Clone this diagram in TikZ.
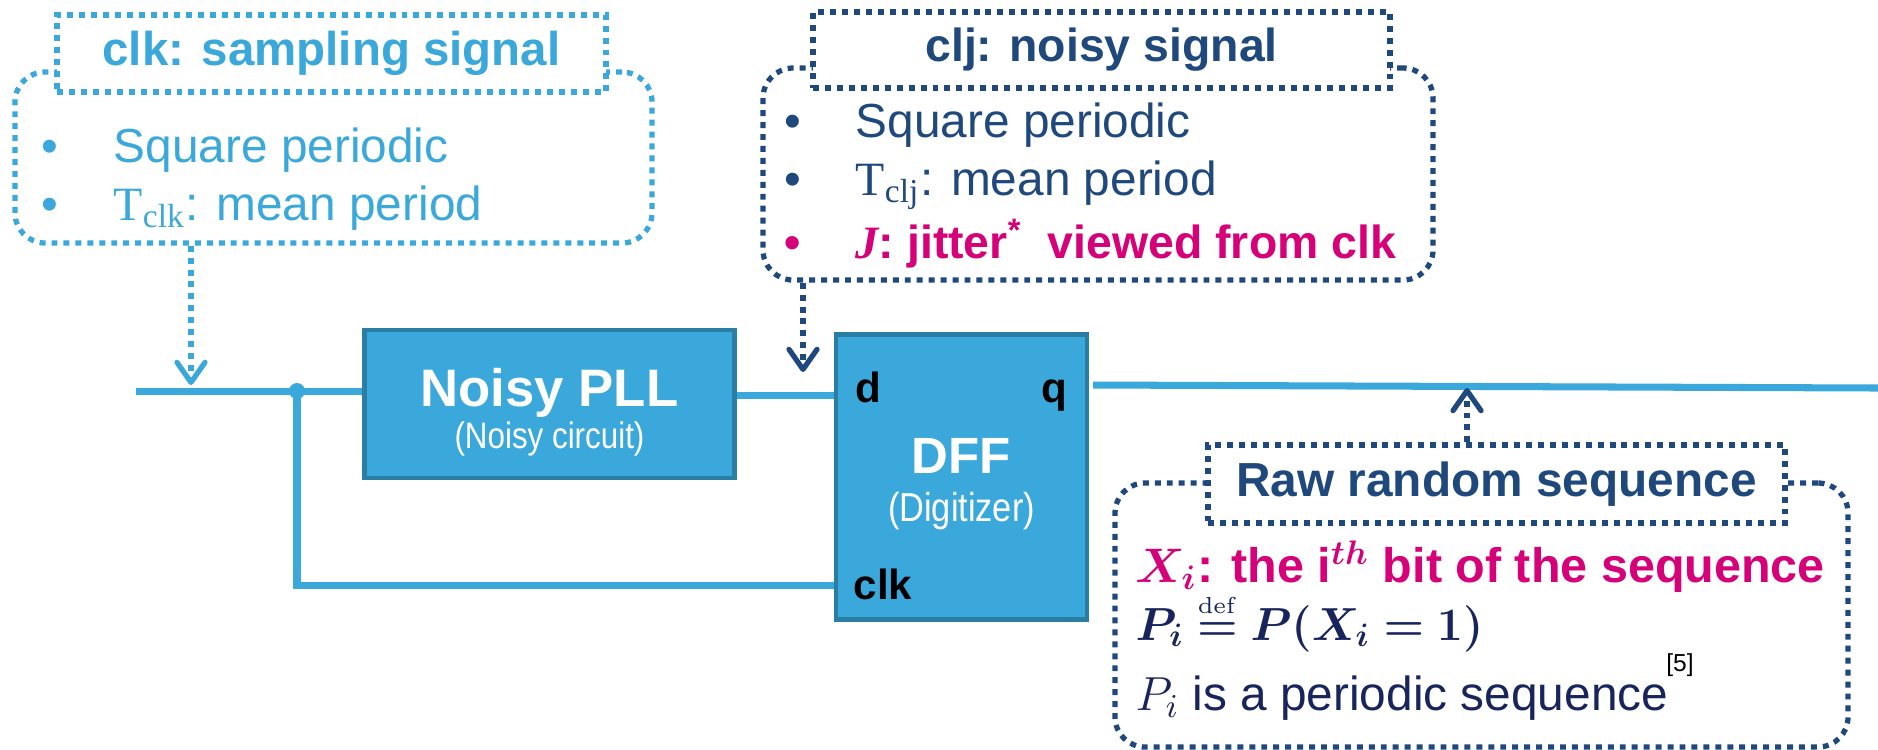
\RequirePackage{fix-cm}
\documentclass[tikz,border=0pt]{standalone}
\usepackage{amsmath}
\usepackage{bm}
\usepackage[no-math]{fontspec}
\setmainfont{Liberation Sans}
\newfontfamily\timesfont{Liberation Serif}
\newfontfamily\narrowfont[FakeStretch=0.85]{Liberation Sans}
\usetikzlibrary{arrows.meta}

\definecolor{wireblue}{RGB}{59,168,219}
\definecolor{blockedge}{RGB}{42,125,163}
\definecolor{navy}{RGB}{31,73,125}
\definecolor{inkblue}{RGB}{24,36,92}
\definecolor{jitpink}{RGB}{214,0,120}

\newcommand{\fsize}[1]{\fontsize{#1pt}{#1pt}\selectfont}
\newcommand{\bulletitem}[2]{\makebox[#1][l]{\textbullet}#2}
\newcommand{\defeq}{\mathrel{\overset{\scriptscriptstyle\mathrm{def}}{\bm{=}}}}

\begin{document}
\begin{tikzpicture}[x=0.1mm, y=-0.1mm,
    wire/.style={draw=wireblue, line width=2pt},
    block/.style={fill=wireblue, draw=blockedge, line width=1.3pt, inner sep=0pt},
    dots/.style={line width=1.5pt, dash pattern=on 1.7pt off 1.7pt},
    noteframe/.style={dots, rounded corners=3mm, inner sep=0pt},
    notehead/.style={dots, fill=white, inner sep=0pt, font=\fsize{13.5}\bfseries},
    port/.style={anchor=base west, inner sep=0pt, font=\fsize{12}\bfseries},
    txt/.style={anchor=base west, inner sep=0pt, font=\fsize{13.6}},
    pointer/.style={dots, -{Straight Barb[length=2mm, width=2.8mm, round]}}]
  \useasboundingbox (0,0) rectangle (1878,749);

  % blocks
  \node[block, minimum width=37mm, minimum height=14.8mm] (pll) at (549.5,404) {};
  \node[anchor=base, text=white, font=\fsize{15}\bfseries] (plltitle) at (549.5,406) {Noisy PLL};
  \node[anchor=base, text=white, font=\narrowfont\fsize{10.5}] (pllsub) at (549.5,448) {(Noisy circuit)};

  \node[block, minimum width=25.1mm, minimum height=28.5mm] (dff) at (961.5,477) {};
  \node[anchor=base, text=white, font=\fsize{14.5}\bfseries] (dfftitle) at (961.5,473) {DFF};
  \node[anchor=base, text=white, font=\narrowfont\fsize{11.5}] (dffsub) at (961.5,521) {(Digitizer)};
  \node[port] (pind) at (855,402) {d};
  \node[port, anchor=base east] (pinq) at (1068,402) {q};
  \node[port] (pinclk) at (853,599) {clk};

  % wires
  \coordinate (vin) at (136,391);
  \coordinate (fork) at (297,391);
  \coordinate (din) at (834,395);
  \coordinate (clkin) at (834,585);
  \coordinate (qout) at (1093,385);
  \coordinate (qend) at (1878,388);
  \draw[wire] (vin) -- (fork -| pll.west);
  \draw[wire] (din -| pll.east) -- (din);
  \draw[wire] (fork) |- (clkin);
  \draw[wire] (qout) -- (qend);
  \fill[wireblue] (fork) circle (0.8mm);

  % clk note
  \node[noteframe, draw=wireblue, minimum width=63.7mm, minimum height=17.1mm] (clknote) at (333.5,157.5) {};
  \node[notehead, draw=wireblue, text=wireblue, minimum width=54.9mm, minimum height=7.7mm] (clkhead) at (331.5,53.5) {clk: sampling signal};
  \node[txt, text=wireblue] (clkitem1) at (41,162) {\bulletitem{7.2mm}{Square periodic}};
  \node[txt, text=wireblue] (clkitem2) at (41,220) {\bulletitem{7.2mm}{{\timesfont T}$_{\text{\timesfont clk}}$: mean period}};
  \coordinate (clktap) at (191,385);
  \draw[pointer, draw=wireblue] (clknote.south -| clktap) -- (clktap);

  % clj note
  \node[noteframe, draw=navy, minimum width=67mm, minimum height=21.2mm] (cljnote) at (1098,174) {};
  \node[notehead, draw=navy, text=navy, font=\fsize{13.2}\bfseries, minimum width=57.7mm, minimum height=7.6mm] (cljhead) at (1101.5,50) {clj: noisy signal};
  \node[txt, text=navy] (cljitem1) at (784,137) {\bulletitem{7.1mm}{Square periodic}};
  \node[txt, text=navy] (cljitem2) at (784,195) {\bulletitem{7.1mm}{{\timesfont T}$_{\text{\timesfont clj}}$: mean period}};
  \node[txt, text=jitpink, font=\fsize{13.2}\bfseries] (cljitem3) at (784,258) {\bulletitem{7.1mm}{{\timesfont\itshape J}: jitter\textsuperscript{*}\ \ viewed from clk}};
  \coordinate (cljtap) at (803,372);
  \draw[pointer, draw=navy] (cljnote.south -| cljtap) -- (cljtap);

  % raw sequence note
  \node[noteframe, draw=navy, minimum width=73.3mm, minimum height=26.4mm] (seqnote) at (1481.5,615) {};
  \node[notehead, draw=navy, text=navy, font=\fsize{13.6}\bfseries, minimum width=57.7mm, minimum height=7.8mm] (seqhead) at (1496.5,484) {Raw random sequence};
  \node[txt, text=jitpink, font=\fsize{13.8}\bfseries] (seqline1) at (1135,582) {$\bm{X_i}$: the i$^{\bm{th}}$ bit of the sequence};
  \node[txt, text=inkblue, font=\fsize{13.2}] (seqline2) at (1135,640) {$\bm{P_i} \defeq \bm{P}\bm{(}\bm{X_i} \bm{=} \bm{1}\bm{)}$};
  \node[txt, text=inkblue] (seqline3) at (1135,710) {$P_i$ is a periodic sequence};
  \node[inner sep=0pt, font=\fsize{7}] (seqref) at (1680,665) {[5]};
  \coordinate (seqtap) at (1467,388);
  \draw[pointer, draw=navy] (seqhead.north -| seqtap) -- (seqtap);
\end{tikzpicture}
\end{document}
